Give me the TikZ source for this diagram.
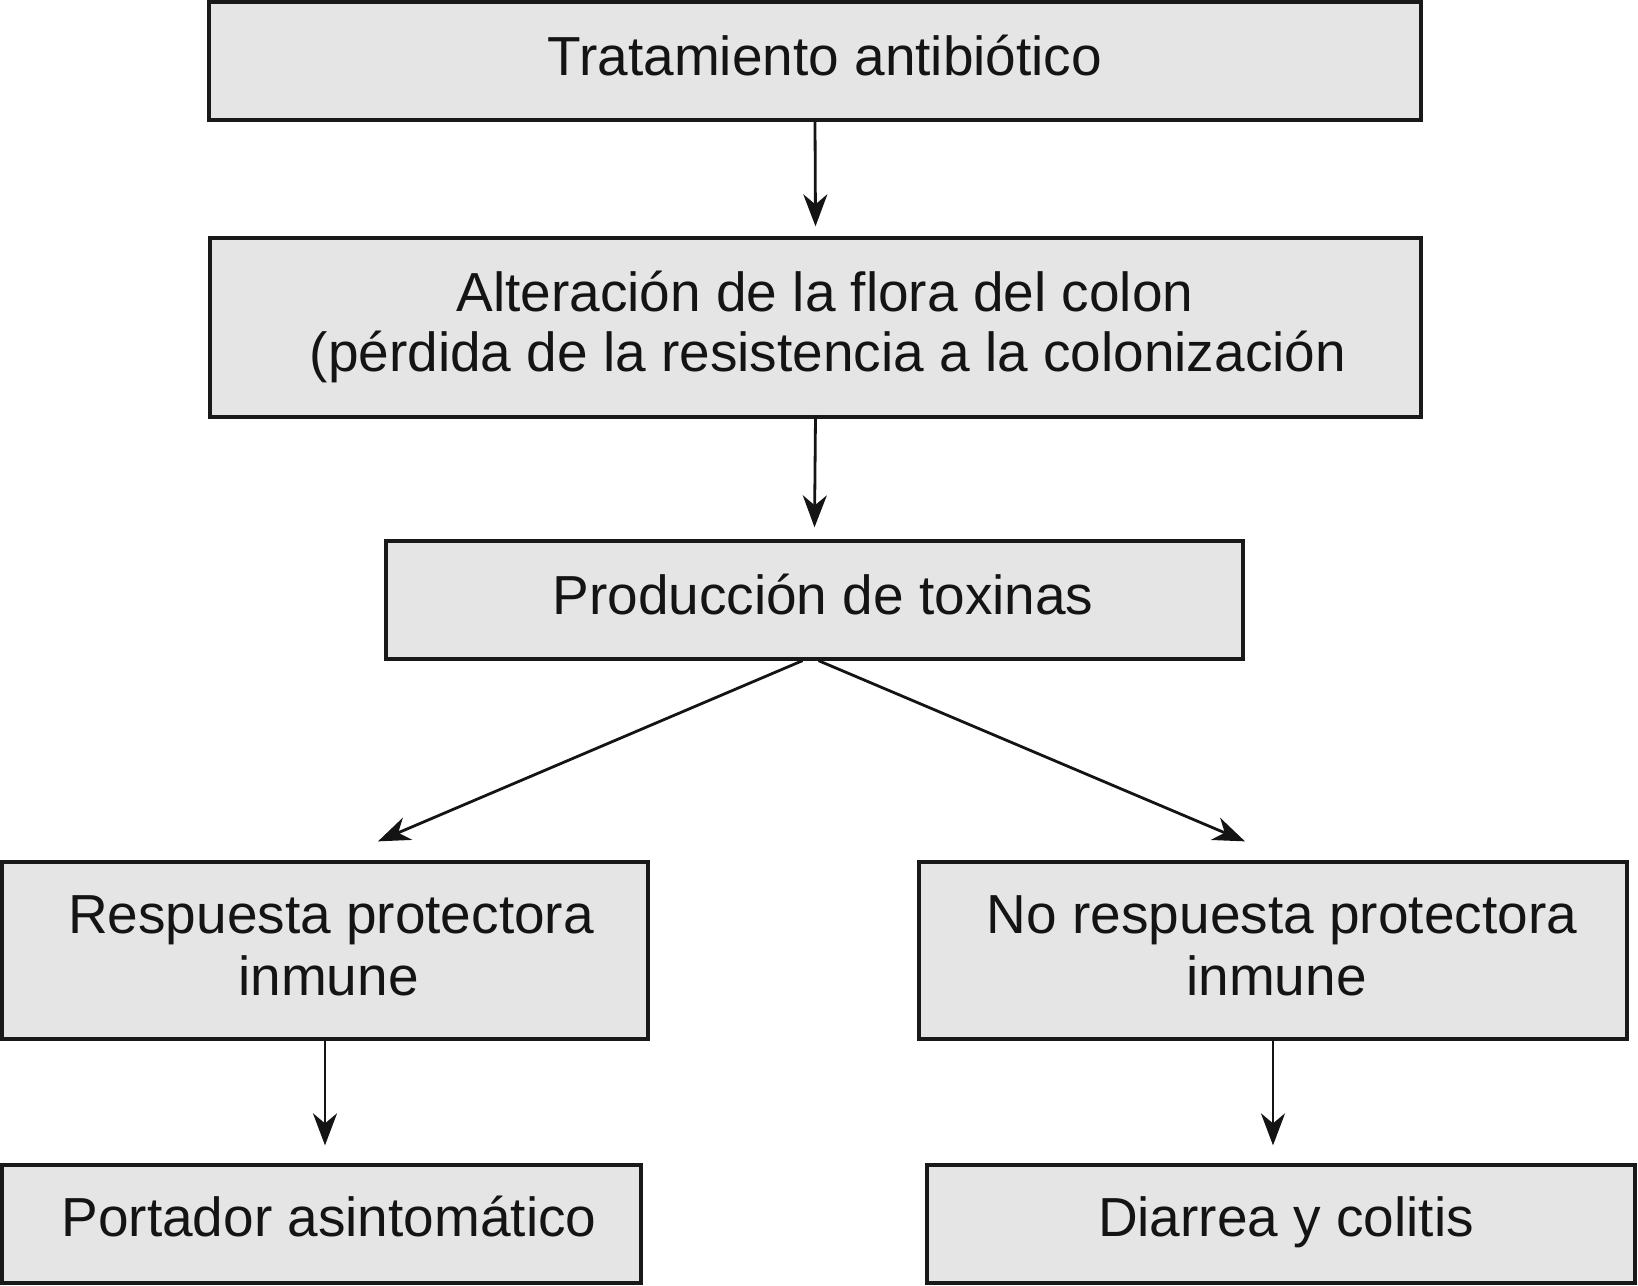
\documentclass[tikz,border=0pt]{standalone}
\usepackage{fontspec}
\setmainfont{Liberation Sans}
\usetikzlibrary{arrows.meta}
\begin{document}
\begin{tikzpicture}[x=1pt,y=-1pt,
  box/.style={draw=black!90, line width=3.3pt, fill=black!10, inner sep=0pt},
  txt/.style={anchor=base, inner sep=0pt, font=\fontsize{55}{61}\selectfont, text=black!92},
  arr/.style={line width=2.8pt, draw=black!92, -{Stealth[length=32pt,width=24pt,inset=10pt]}}]
\useasboundingbox (0,0) rectangle (1638,1285);
\node[box, minimum width=1212pt, minimum height=118pt] (a) at (815,61) {};
\node[box, minimum width=1211pt, minimum height=179pt] (b) at (815.5,327.5) {};
\node[box, minimum width=857pt, minimum height=118pt] (c) at (814.5,600) {};
\node[box, minimum width=646pt, minimum height=177pt] (d) at (325,950.5) {};
\node[box, minimum width=708pt, minimum height=177pt] (e) at (1273,950.5) {};
\node[box, minimum width=639pt, minimum height=118pt] (f) at (321.5,1224) {};
\node[box, minimum width=708pt, minimum height=118pt] (g) at (1281,1224) {};
\node[txt] (ta) at (825,75) {Tratamiento antibiótico};
\node[txt] (tb1) at (825,311) {Alteración de la flora del colon};
\node[txt] (tb2) at (828,371) {(pérdida de la resistencia a la colonización};
\node[txt] (tc) at (823,614) {Producción de toxinas};
\node[txt] (td1) at (331,933) {Respuesta protectora};
\node[txt] (td2) at (328.5,995) {inmune};
\node[txt] (te1) at (1282,933) {No respuesta protectora};
\node[txt] (te2) at (1276.5,995) {inmune};
\node[txt] (tf) at (329,1236) {Portador asintomático};
\node[txt] (tg) at (1286,1236) {Diarrea y colitis};
\draw[arr] (a.south) -- ([yshift=10pt]b.north);
\draw[arr] ([yshift=3pt]b.south) -- ([yshift=12pt]c.north);
\draw[arr] ([xshift=-12pt]c.south) -- ([xshift=53pt,yshift=19pt]d.north);
\draw[arr] ([xshift=4pt]c.south) -- ([xshift=-28pt,yshift=19pt]e.north);
\draw[arr] (d.south) -- ([yshift=18pt]d.south |- f.north);
\draw[arr] (e.south) -- ([yshift=18pt]e.south |- g.north);
\end{tikzpicture}
\end{document}
